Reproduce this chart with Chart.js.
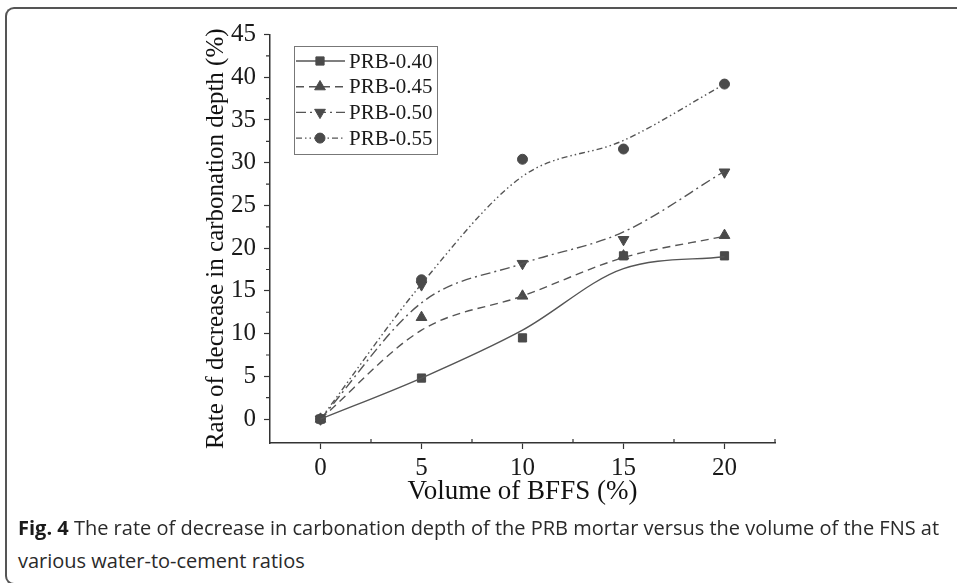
<!DOCTYPE html>
<html>
<head>
<meta charset="utf-8">
<script src="https://cdn.jsdelivr.net/npm/chart.js@4.4.1/dist/chart.umd.min.js"></script>
<style>
html,body{margin:0;padding:0;background:#fff;overflow:hidden;}
#page{position:relative;width:957px;height:583px;overflow:hidden;background:#fff;}
#frame{position:absolute;left:5px;top:7px;width:1400px;height:578px;border-top:2px solid #555;border-left:2px solid #555;border-bottom:2px solid #555;border-right:none;border-radius:9px 0 0 9px;box-sizing:border-box;}
#wrap{position:absolute;left:0;top:0;width:957px;height:515px;}
.cap{position:absolute;left:18px;font-family:"Open Sans",sans-serif;font-size:20px;line-height:27px;color:#2a2a2a;white-space:nowrap;}
.cap b{color:#1a1a1a;}
</style>
</head>
<body>
<div id="page">
<div id="frame"></div>
<div id="wrap"><canvas id="c"></canvas></div>
<div class="cap" style="top:514px"><b>Fig. 4</b> The rate of decrease in carbonation depth of the PRB mortar versus the volume of the FNS at</div>
<div class="cap" style="top:547px">various water-to-cement ratios</div>
</div>
<script>
// ---- data ----
const volumes = [0, 5, 10, 15, 20];
const seriesNames = ['PRB-0.40', 'PRB-0.45', 'PRB-0.50', 'PRB-0.55'];
// measured points
const prb040 = [0, 4.8, 9.5, 19.1, 19.1];
const prb045 = [0, 11.9, 14.4, 19.1, 21.5];
const prb050 = [0, 15.7, 18.2, 21.0, 28.9];
const prb055 = [0, 16.3, 30.4, 31.6, 39.2];
// fitted (smoothed) curves at each volume
const fit040 = [0, 4.8, 10.4, 17.6, 19.0];
const fit045 = [0, 10.4, 14.4, 18.9, 21.4];
const fit050 = [0, 13.6, 18.2, 21.9, 29.0];
const fit055 = [0, 15.8, 28.4, 32.6, 39.2];
const xTicks = [0, 5, 10, 15, 20];
const yTicks = [0, 5, 10, 15, 20, 25, 30, 35, 40, 45];

const measured = [prb040, prb045, prb050, prb055];
const fitted = [fit040, fit045, fit050, fit055];
const dashes = [[], [8, 5], [10, 4, 2, 4], [6, 3, 1.5, 3, 1.5, 3]];
const pStyles = ['rect', 'triangle', 'triangle', 'circle'];
const pRot = [0, 0, 180, 0];
const pRad = [5.8, 6.2, 6.2, 5];
const lineColor = '#555';
const markColor = '#4a4a4a';

const datasets = [];
seriesNames.forEach((name, i) => {
  datasets.push({
    label: name,
    data: volumes.map((v, k) => ({x: v, y: fitted[i][k]})),
    borderColor: lineColor,
    borderWidth: 1.4,
    borderDash: dashes[i],
    pointRadius: 0,
    cubicInterpolationMode: 'monotone',
    fill: false
  });
  datasets.push({
    label: name + ' points',
    data: volumes.map((v, k) => ({x: v, y: measured[i][k]})),
    showLine: false,
    pointStyle: pStyles[i],
    rotation: pRot[i],
    pointRadius: pRad[i],
    pointBackgroundColor: markColor,
    pointBorderColor: markColor,
    pointBorderWidth: 1
  });
});

const serif = '"Liberation Serif", "Times New Roman", serif';

const boxLegend = {
  id: 'boxLegend',
  afterDraw(chart) {
    const ctx = chart.ctx;
    const left = chart.chartArea.left + 24, top = chart.chartArea.top + 11.5;
    const w = 143, h = 108, rowH = 25.7;
    ctx.save();
    ctx.strokeStyle = '#777';
    ctx.lineWidth = 1;
    ctx.strokeRect(Math.round(left) + 0.5, Math.round(top) + 0.5, w, h);
    seriesNames.forEach((name, i) => {
      const y = top + 15 + i * rowH;
      ctx.setLineDash(dashes[i]);
      ctx.lineWidth = 1.4;
      ctx.strokeStyle = lineColor;
      ctx.beginPath();
      ctx.moveTo(left + 2, y);
      ctx.lineTo(left + 51, y);
      ctx.stroke();
      ctx.setLineDash([]);
      ctx.fillStyle = markColor;
      ctx.strokeStyle = markColor;
      ctx.lineWidth = 1;
      Chart.helpers.drawPoint(ctx, {pointStyle: pStyles[i], rotation: pRot[i], radius: pRad[i], borderWidth: 1}, left + 26, y);
      ctx.fillStyle = '#1a1a1a';
      ctx.font = '21px ' + serif;
      ctx.textBaseline = 'middle';
      ctx.textAlign = 'left';
      ctx.fillText(name, left + 55, y + 1);
    });
    ctx.restore();
  }
};

const minorTicks = {
  id: 'minorTicks',
  afterDraw(chart) {
    const ctx = chart.ctx, xs = chart.scales.x, ys = chart.scales.y;
    const ca = chart.chartArea;
    ctx.save();
    ctx.strokeStyle = '#333';
    ctx.lineWidth = 1.2;
    ctx.beginPath();
    for (let v = 2.5; v <= 22.5; v += 5) {
      const px = xs.getPixelForValue(v);
      ctx.moveTo(px, ca.bottom);
      ctx.lineTo(px, ca.bottom - 4);
    }
    for (let v = 2.5; v <= 42.5; v += 5) {
      const py = ys.getPixelForValue(v);
      ctx.moveTo(ca.left, py);
      ctx.lineTo(ca.left - 4, py);
    }
    ctx.stroke();
    ctx.restore();
  }
};

new Chart(document.getElementById('c'), {
  type: 'line',
  data: {datasets},
  plugins: [boxLegend, minorTicks],
  options: {
    responsive: true,
    maintainAspectRatio: false,
    animation: false,
    layout: {padding: {left: 0, top: 34.5, right: 182, bottom: 0}},
    plugins: {legend: {display: false}, tooltip: {enabled: false}},
    scales: {
      x: {
        type: 'linear',
        min: -2.5,
        max: 22.5,
        afterBuildTicks: s => { s.ticks = xTicks.map(v => ({value: v})); },
        afterFit: s => { s.height = 72; },
        ticks: {color: '#1a1a1a', font: {family: serif, size: 25}, padding: 4, autoSkip: false, maxRotation: 0},
        grid: {drawOnChartArea: false, drawTicks: true, tickLength: 6, tickColor: '#333', tickWidth: 1.2},
        border: {display: true, color: '#333', width: 1.5},
        title: {display: true, text: 'Volume of BFFS (%)', color: '#111', font: {family: serif, size: 27}, padding: {top: 0, bottom: 7}}
      },
      y: {
        type: 'linear',
        min: -2.8,
        max: 45,
        afterBuildTicks: s => { s.ticks = yTicks.map(v => ({value: v})); },
        afterFit: s => { s.width = 270; },
        ticks: {color: '#1a1a1a', font: {family: serif, size: 25}, padding: 8, autoSkip: false},
        grid: {drawOnChartArea: false, drawTicks: true, tickLength: 6, tickColor: '#333', tickWidth: 1.2},
        border: {display: true, color: '#333', width: 1.5},
        title: {display: true, text: 'Rate of decrease in carbonation depth (%)', color: '#111', font: {family: serif, size: 25}, padding: {top: 201, bottom: 0}}
      }
    }
  }
});
</script>
</body>
</html>
